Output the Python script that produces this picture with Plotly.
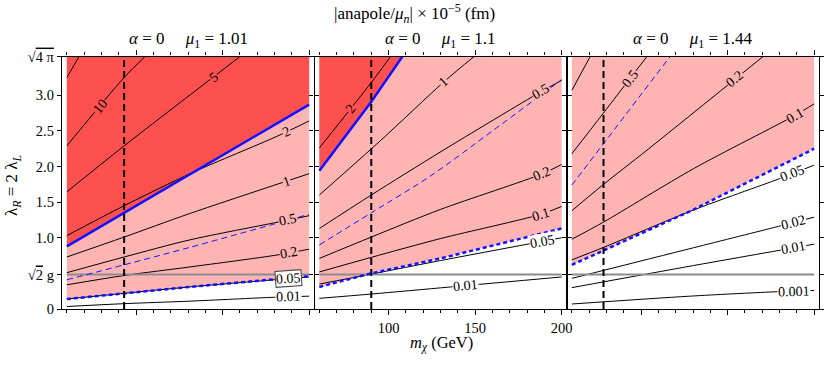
import numpy as np
import plotly.graph_objects as go

FIG_W, FIG_H = 830, 366
SERIF = "'Liberation Serif', 'Times New Roman', Times, serif"

# ---------------- data ----------------
M_LIMITS = [60, 200]
X_RANGE = [57.2, 202.8]
LAMBDA_MAX = float(np.sqrt(4 * np.pi))
GRAY_LAMBDA = 0.485

MU1_VALUES = ["1.01", "1.1", "1.44"]
MASS_LINES = [93.1, 90.0, 78.3]

X_TICKS = [100, 150, 200]
X_MINOR = list(range(60, 201, 10))
Y_TICKS = [0, GRAY_LAMBDA, 1.0, 1.5, 2.0, 2.5, 3.0, LAMBDA_MAX]
Y_TICKTEXT = ["0", "√<span style='text-decoration:overline'>2</span> g", "1.0", "1.5", "2.0", "2.5", "3.0",
              "√<span style='text-decoration:overline'>4 π</span>"]

# panel 1 (mu1 = 1.01)
P1_STRONG = [(60, 0.88), (93.1, 1.35), (133, 1.91), (200, 2.87)]
P1_WEAK = [(60, 0.14), (93.1, 0.22), (131, 0.31), (200, 0.46)]
P1_THIN = [(60, 0.41), (93.1, 0.62), (131, 0.865), (200, 1.33)]
P1_LEVELS = ["", "10", "5", "2", "1", "0.5", "0.2", "0.05", "0.01"]
P1_LINES = [
    [(60, 3.25), (67.1, 3.545)],
    [(60, 2.29), (93.1, 3.25), (105.2, 3.545)],
    [(60, 1.645), (93.1, 2.29), (160.1, 3.545)],
    [(60, 1.03), (93.1, 1.45), (133, 1.92), (181, 2.42), (200, 2.64)],
    [(60, 0.73), (93.1, 1.01), (131, 1.34), (200, 1.90)],
    [(60, 0.51), (93.1, 0.73), (131, 0.97), (182, 1.22), (200, 1.31)],
    [(60, 0.34), (93.1, 0.47), (131, 0.59), (182, 0.76), (200, 0.84)],
    [(60, 0.14), (93.1, 0.22), (131, 0.31), (200, 0.45)],
    [(60, 0.035), (93.1, 0.075), (131, 0.11), (180, 0.165), (200, 0.18)],
]
P1_LABEL_M = [None, 79.2, 144.7, 187.1, 187.1, 188.0, 188.6, 188.0, 188.0]
P1_LABEL_BOXED = ["0.05"]

# panel 2 (mu1 = 1.1)
P2_STRONG = [(60, 1.94), (90, 2.91), (108, 3.545)]
P2_WEAK = [(60, 0.31), (90, 0.50), (130, 0.71), (200, 1.13)]
P2_THIN = [(60, 0.90), (90, 1.35), (125, 1.88), (160, 2.50), (200, 3.22)]
P2_LEVELS = ["2", "1", "0.5", "0.2", "0.1", "0.05", "0.01"]
P2_LINES = [
    [(60, 2.26), (90, 3.18), (101.2, 3.545)],
    [(60, 1.60), (95.6, 2.37), (132, 3.19), (149.4, 3.545)],
    [(60, 1.13), (90, 1.60), (130.3, 2.21), (188, 3.05), (200, 3.21)],
    [(60, 0.71), (90, 1.01), (130.2, 1.40), (189, 1.90), (200, 2.03)],
    [(60, 0.52), (90, 0.725), (130.2, 0.99), (188, 1.33), (200, 1.44)],
    [(60, 0.35), (90, 0.49), (130, 0.68), (200, 1.0)],
    [(60, 0.15), (90, 0.21), (136, 0.31), (200, 0.45)],
]
P2_LABEL_M = [78.1, 132.0, 187.9, 188.9, 188.0, 189.0, 144.6]
P2_LABEL_BOXED = []

# panel 3 (mu1 = 1.44)
P3_STRONG = []
P3_WEAK = [(60, 0.62), (78.3, 0.82), (129, 1.38), (200, 2.25)]
P3_THIN = [(60, 1.74), (116.8, 3.545)]
P3_LEVELS = ["", "0.5", "0.2", "0.1", "0.05", "0.02", "0.01", "0.001"]
P3_LINES = [
    [(60, 3.07), (70.6, 3.545)],
    [(60, 2.18), (77.9, 2.74), (103.4, 3.545)],
    [(60, 1.38), (78.3, 1.75), (103.4, 2.23), (170.5, 3.545)],
    [(60, 0.98), (78.3, 1.22), (130.3, 1.97), (189, 2.72), (200, 2.88)],
    [(60, 0.69), (78.3, 0.865), (130.3, 1.39), (180, 1.83), (200, 2.02)],
    [(60, 0.43), (130.3, 0.86), (179.4, 1.16), (200, 1.29)],
    [(60, 0.30), (130.3, 0.61), (200, 0.91)],
    [(60, 0.07), (128, 0.18), (176, 0.24), (200, 0.26)],
]
P3_LABEL_M = [None, 93.7, 154.4, 189.1, 187.2, 188.1, 188.1, 188.1]
P3_LABEL_BOXED = []

# ---------------- layout (pixels) ----------------
PANEL_PX = [(62, 314), (314.5, 566.5), (567, 819)]
TOP_PX, BOTTOM_PX = 56.5, 309

DARK = "#ff5050"
PINK = "#ffb4b4"
BLUE = "#1010ff"

panels = [
    (P1_STRONG, P1_WEAK, P1_THIN, P1_LEVELS, P1_LINES, P1_LABEL_M, P1_LABEL_BOXED),
    (P2_STRONG, P2_WEAK, P2_THIN, P2_LEVELS, P2_LINES, P2_LABEL_M, P2_LABEL_BOXED),
    (P3_STRONG, P3_WEAK, P3_THIN, P3_LEVELS, P3_LINES, P3_LABEL_M, P3_LABEL_BOXED),
]


def xs(pts):
    return [p[0] for p in pts]


def ys(pts):
    return [p[1] for p in pts]


def at(pts, m):
    return float(np.interp(m, xs(pts), ys(pts)))


def top_polygon(pts):
    poly = list(pts)
    if poly[-1][1] < LAMBDA_MAX:
        poly.append((poly[-1][0], LAMBDA_MAX))
    poly.append((poly[0][0], LAMBDA_MAX))
    return poly


fig = go.Figure()
annotations = []
y_dom = [1 - BOTTOM_PX / FIG_H, 1 - TOP_PX / FIG_H]
px_per_l = (BOTTOM_PX - TOP_PX) / LAMBDA_MAX

for i, (strong, weak, thin, levels, lines, label_m, boxed) in enumerate(panels):
    k = i + 1
    xa, ya = f"x{k}" if k > 1 else "x", f"y{k}" if k > 1 else "y"
    px0, px1 = PANEL_PX[i]
    px_per_m = (px1 - px0) / (X_RANGE[1] - X_RANGE[0])

    # fills
    poly = top_polygon(weak)
    fig.add_trace(go.Scatter(x=xs(poly), y=ys(poly), fill="toself", fillcolor=PINK,
                             line=dict(width=0), mode="lines", xaxis=xa, yaxis=ya, hoverinfo="skip"))
    if strong:
        poly = top_polygon(strong)
        fig.add_trace(go.Scatter(x=xs(poly), y=ys(poly), fill="toself", fillcolor=DARK,
                                 line=dict(width=0), mode="lines", xaxis=xa, yaxis=ya, hoverinfo="skip"))

    # black contours
    for pts in lines:
        fig.add_trace(go.Scatter(x=xs(pts), y=ys(pts), mode="lines",
                                 line=dict(color="black", width=1, shape="spline", smoothing=0.8),
                                 xaxis=xa, yaxis=ya, hoverinfo="skip"))

    # gray line
    fig.add_trace(go.Scatter(x=M_LIMITS, y=[GRAY_LAMBDA, GRAY_LAMBDA], mode="lines",
                             line=dict(color="#8c8c8c", width=2), xaxis=xa, yaxis=ya, hoverinfo="skip"))
    # thin blue dashed
    fig.add_trace(go.Scatter(x=xs(thin), y=ys(thin), mode="lines",
                             line=dict(color=BLUE, width=1, dash="6px,4px", shape="spline", smoothing=0.8),
                             xaxis=xa, yaxis=ya, hoverinfo="skip"))
    # thick blue dashed
    fig.add_trace(go.Scatter(x=xs(weak), y=ys(weak), mode="lines",
                             line=dict(color=BLUE, width=2.5, dash="4px,3px"),
                             xaxis=xa, yaxis=ya, hoverinfo="skip"))
    if strong:
        fig.add_trace(go.Scatter(x=xs(strong), y=ys(strong), mode="lines",
                                 line=dict(color=BLUE, width=2.5),
                                 xaxis=xa, yaxis=ya, hoverinfo="skip"))
    # vertical mass line
    fig.add_trace(go.Scatter(x=[MASS_LINES[i], MASS_LINES[i]], y=[0, LAMBDA_MAX], mode="lines",
                             line=dict(color="black", width=2, dash="7px,4px"),
                             xaxis=xa, yaxis=ya, hoverinfo="skip"))

    # contour labels
    for lev, pts, m in zip(levels, lines, label_m):
        if m is None or not lev:
            continue
        lam = at(pts, m)
        slope = (at(pts, m + 1.5) - at(pts, m - 1.5)) / 3.0
        ang = np.degrees(np.arctan(slope * px_per_l / px_per_m))
        if strong and lam > at(strong, m) and m <= strong[-1][0]:
            bg = DARK
        elif lam > at(weak, m):
            bg = PINK
        else:
            bg = "white"
        ann = dict(x=m, y=lam, xref=xa, yref=ya, text=lev, showarrow=False, textangle=-ang,
                   xanchor="center", yanchor="middle",
                   font=dict(family=SERIF, size=14, color="black"), bgcolor=bg, borderpad=0)
        if lev in boxed:
            ann.update(bgcolor="white", bordercolor="#444", borderwidth=1, textangle=-4)
        annotations.append(ann)

    # axes
    xd = [px0 / FIG_W, px1 / FIG_W]
    axis_common = dict(showline=True, linecolor="black", linewidth=1.4, mirror="allticks",
                       showgrid=False, zeroline=False, ticks="outside", tickcolor="black",
                       automargin=False,
                       tickfont=dict(family=SERIF, size=14.5, color="black"))
    fig.update_layout(**{
        ("xaxis" if k == 1 else f"xaxis{k}"): dict(
            domain=xd, range=X_RANGE, anchor=ya, tickmode="array", tickvals=X_TICKS,
            ticklen=5, showticklabels=(k == 2),
            minor=dict(tickmode="array", tickvals=X_MINOR, ticks="outside", ticklen=3, tickcolor="black"),
            **axis_common),
        ("yaxis" if k == 1 else f"yaxis{k}"): dict(
            domain=y_dom, range=[0, LAMBDA_MAX], anchor=xa, tickmode="array", tickvals=Y_TICKS,
            ticktext=Y_TICKTEXT, ticklen=4, showticklabels=(k == 1), **axis_common),
    })

    annotations.append(dict(
        x=(px0 + px1) / 2 / FIG_W, y=1 - 40 / FIG_H, xref="paper", yref="paper", showarrow=False,
        xanchor="center", yanchor="middle",
        text=f"<i>α</i> = 0\u00a0\u00a0\u00a0\u00a0\u00a0<i>μ</i><sub>1</sub> = {MU1_VALUES[i]}",
        font=dict(family=SERIF, size=17, color="black")))

annotations.append(dict(x=414 / FIG_W, y=1 - 13 / FIG_H, xref="paper", yref="paper", showarrow=False,
                        xanchor="center", yanchor="middle",
                        text="|anapole/<i>μ<sub>n</sub></i>| × 10<sup>−5</sup> (fm)",
                        font=dict(family=SERIF, size=17, color="black")))
annotations.append(dict(x=441 / FIG_W, y=1 - 343 / FIG_H, xref="paper", yref="paper", showarrow=False,
                        xanchor="center", yanchor="middle",
                        text="<i>m</i><sub><i>χ</i></sub> (GeV)",
                        font=dict(family=SERIF, size=16.5, color="black")))
annotations.append(dict(x=13 / FIG_W, y=1 - 185 / FIG_H, xref="paper", yref="paper", showarrow=False,
                        xanchor="center", yanchor="middle",
                        textangle=-90, text="λ<sub><i>R</i></sub> = 2 λ<sub><i>L</i></sub>",
                        font=dict(family=SERIF, size=17, color="black")))

fig.update_layout(width=FIG_W, height=FIG_H, margin=dict(l=0, r=0, t=0, b=0),
                  plot_bgcolor="white", paper_bgcolor="white", showlegend=False,
                  font=dict(family=SERIF, color="black"),
                  annotations=annotations)
fig.write_html("out.html", config={"displayModeBar": False},
               post_script="document.body.style.margin='0px';")
